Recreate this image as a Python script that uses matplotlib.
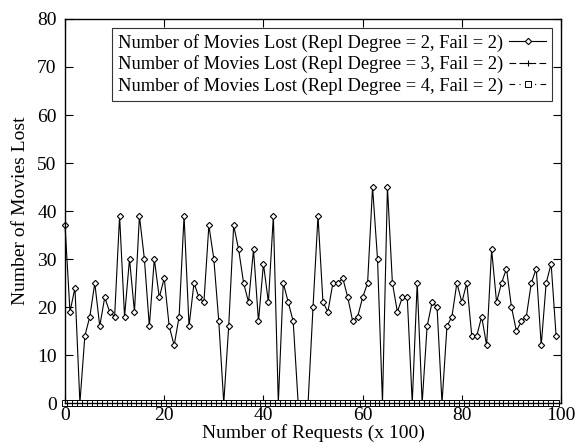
import numpy as np
import matplotlib
matplotlib.use("Agg")
import matplotlib.pyplot as plt

plt.rcParams['font.family'] = ['Liberation Serif', 'DejaVu Serif']

# requests (x 100)
requests = np.arange(100)

lost_deg2 = [37, 19, 24, 0, 14, 18, 25, 16, 22, 19,
             18, 39, 18, 30, 19, 39, 30, 16, 30, 22,
             26, 16, 12, 18, 39, 16, 25, 22, 21, 37,
             30, 17, 0, 16, 37, 32, 25, 21, 32, 17,
             29, 21, 39, 0, 25, 21, 17, 0, 0, 0,
             20, 39, 21, 19, 25, 25, 26, 22, 17, 18,
             22, 25, 45, 30, 0, 45, 25, 19, 22, 22,
             0, 25, 0, 16, 21, 20, 0, 16, 18, 25,
             21, 25, 14, 14, 18, 12, 32, 21, 25, 28,
             20, 15, 17, 18, 25, 28, 12, 25, 29, 14]
lost_deg3 = [0] * 100
lost_deg4 = [0] * 100

labels = ['Number of Movies Lost (Repl Degree = 2, Fail = 2)',
          'Number of Movies Lost (Repl Degree = 3, Fail = 2)',
          'Number of Movies Lost (Repl Degree = 4, Fail = 2)']

fig = plt.figure(figsize=(5.79, 4.48), dpi=100)
ax = fig.add_axes([0.1123, 0.1004, 0.8567, 0.8572])

ax.plot(requests, lost_deg2, '-', color='black', lw=0.8, marker='D',
        ms=3.2, mfc='white', mec='black', mew=0.8, label=labels[0], clip_on=False)
ax.plot(requests, lost_deg3, '--', color='black', lw=0.8, marker='+',
        ms=5, mew=0.8, dashes=(6, 3), label=labels[1], clip_on=False)
ax.plot(requests, lost_deg4, '-.', color='black', lw=0.8, marker='s',
        ms=4.2, mfc='white', mec='black', mew=0.7, dashes=(5, 4, 1, 4),
        label=labels[2], clip_on=False)

ax.set_xlim(0, 100)
ax.set_ylim(0, 80)
ax.set_xticks(np.arange(0, 101, 20))
ax.set_yticks(np.arange(0, 81, 10))
ax.tick_params(direction='in', top=True, right=True, length=6, width=0.8,
               labelsize=14)
ax.tick_params(axis='y', pad=6)
ax.tick_params(axis='x', pad=3)
for s in ax.spines.values():
    s.set_linewidth(1.0)

ax.set_xlabel('Number of Requests (x 100)', fontsize=14, labelpad=0)
ax.set_ylabel('Number of Movies Lost', fontsize=14, labelpad=6)

leg = ax.legend(loc='upper right', markerfirst=False, fontsize=13.3,
                frameon=True, fancybox=False, edgecolor='black',
                handlelength=2.0, handletextpad=0.35, labelspacing=0.2,
                borderpad=0.3, borderaxespad=0.5)
leg.get_frame().set_linewidth(0.8)

fig.savefig('out.png', dpi=100)
